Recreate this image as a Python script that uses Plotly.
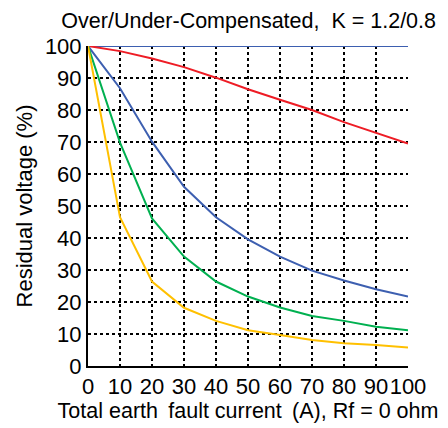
import plotly.graph_objects as go

current = [0, 10, 20, 30, 40, 50, 60, 70, 80, 90, 100]
flat = [100, 100, 100, 100, 100, 100, 100, 100, 100, 100, 100]
red = [100, 98.4, 96.1, 93.4, 90.1, 86.5, 83.2, 80.0, 76.2, 72.8, 69.5]
blue = [100, 86.8, 70.1, 56.0, 46.5, 39.6, 34.2, 29.8, 26.7, 24.0, 21.7]
green = [100, 69.8, 46.1, 34.2, 26.4, 21.7, 18.3, 15.6, 14.1, 12.3, 11.2]
yellow = [100, 46.5, 26.4, 18.2, 14.1, 11.2, 9.7, 8.1, 7.1, 6.6, 5.8]

series = [
    (flat, "#3d5fb0"),
    (red, "#ee1c25"),
    (blue, "#3d5fb0"),
    (green, "#00b050"),
    (yellow, "#ffc000"),
]

fig = go.Figure()
for ys, col in series:
    fig.add_trace(go.Scatter(x=current, y=ys, mode="lines",
                             line=dict(color=col, width=2), cliponaxis=False,
                             showlegend=False))

font = "Liberation Sans, Arial, sans-serif"
fig.update_layout(
    width=440, height=420,
    margin=dict(l=80, r=40, t=38, b=62),
    paper_bgcolor="white", plot_bgcolor="white",
    font=dict(family=font, color="black"),
    title=dict(text="Over/Under-Compensated,\u00a0 K = 1.2/0.8", x=0.547, xanchor="center",
               y=0.971, yanchor="middle", font=dict(size=21.5)),
)
fig.update_xaxes(range=[0, 100], tickvals=current, ticks="", showgrid=True,
                 gridcolor="black", griddash="dot", gridwidth=1.5,
                 showline=True, linecolor="black", linewidth=2, zeroline=False,
                 tickfont=dict(size=22), tickangle=0, automargin=False,
                 title=dict(text="Total earth\u2009 fault current\u2009 (A), Rf = 0 ohm",
                            font=dict(size=21.5), standoff=4))
fig.update_yaxes(range=[0, 100], tickvals=current, ticks="", showgrid=True,
                 gridcolor="black", griddash="dot", gridwidth=1.5,
                 showline=True, linecolor="black", linewidth=2, zeroline=False,
                 tickfont=dict(size=22), automargin=False,
                 title=dict(text="Residual voltage (%)", font=dict(size=22), standoff=6))
fig.write_html("out.html")
